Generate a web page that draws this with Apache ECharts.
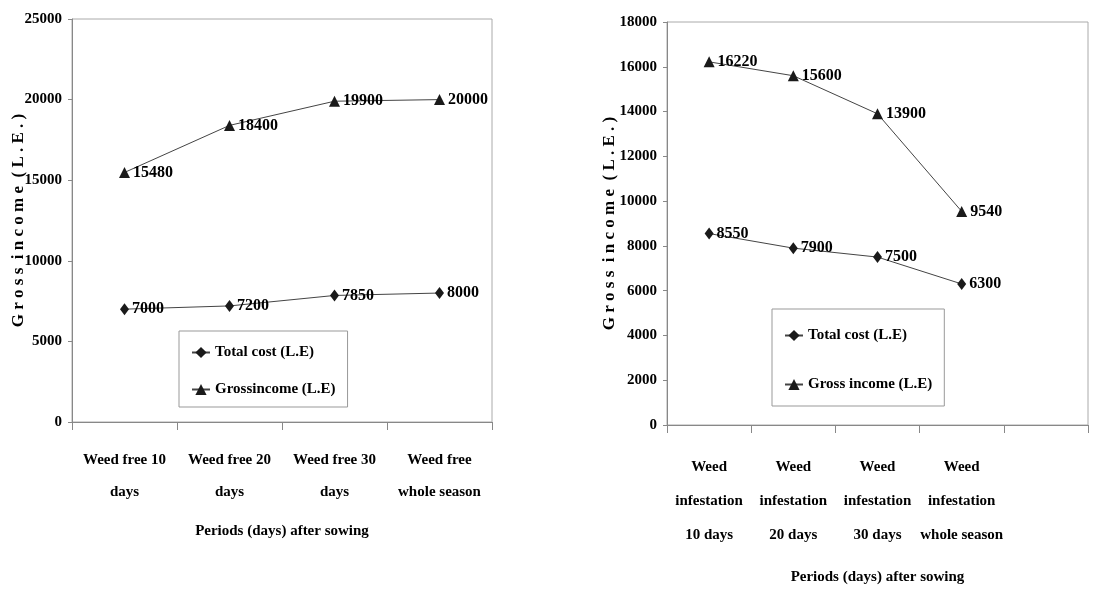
<!DOCTYPE html>
<html><head><meta charset="utf-8">
<script src="https://cdn.jsdelivr.net/npm/echarts@6/dist/echarts.min.js"></script>
<style>html,body{margin:0;padding:0;background:#fff}#c{width:1102px;height:590px}</style>
</head><body><div id="c"></div>
<script>
var leftCategories = ['Weed free 10\ndays', 'Weed free 20\ndays', 'Weed free 30\ndays', 'Weed free\nwhole season'];
var leftCost = [7000, 7200, 7850, 8000];
var leftIncome = [15480, 18400, 19900, 20000];
var leftYMax = 25000, leftYInterval = 5000;

var rightCategories = ['Weed\ninfestation\n10 days', 'Weed\ninfestation\n20 days', 'Weed\ninfestation\n30 days', 'Weed\ninfestation\nwhole season', ''];
var rightCost = [8550, 7900, 7500, 6300];
var rightIncome = [16220, 15600, 13900, 9540];
var rightYMax = 18000, rightYInterval = 2000;

var yName = 'G r o s s  i n c o m e  ( L . E . )';
var xName = 'Periods (days) after sowing';
var leftNames = ['Total cost (L.E)', 'Grossincome (L.E)'];
var rightNames = ['Total cost (L.E)', 'Gross income (L.E)'];

var FONT = '"Liberation Serif", "Times New Roman", serif';
var txt = {fontFamily: FONT, fontWeight: 'bold', fontSize: 15, color: '#000'};

function yAxis(gi, max, interval, gap) {
  return {
    gridIndex: gi, type: 'value', min: 0, max: max, interval: interval,
    name: yName, nameLocation: 'middle', nameRotate: 90, nameGap: gap, nameMoveOverlap: false,
    nameTextStyle: Object.assign({}, txt, {fontSize: 17}),
    axisLine: {show: true, lineStyle: {color: '#888', width: 1}},
    axisTick: {show: true, length: 4, lineStyle: {color: '#888'}},
    axisLabel: Object.assign({}, txt, {fontSize: 15, margin: 10, formatter: function (v) { return String(v); }}),
    splitLine: {show: false}
  };
}
function xAxis(gi, cats, margin, lh, nameGap) {
  return {
    gridIndex: gi, type: 'category', data: cats, boundaryGap: true,
    name: xName, nameLocation: 'middle', nameGap: nameGap, nameMoveOverlap: false,
    nameTextStyle: Object.assign({}, txt),
    axisLine: {show: true, lineStyle: {color: '#888', width: 1}},
    axisTick: {show: true, length: 8, alignWithLabel: false, lineStyle: {color: '#888'}},
    axisLabel: Object.assign({}, txt, {margin: margin, lineHeight: lh, interval: 0})
  };
}
function series(name, data, xi, symbol, size) {
  return {
    name: name, type: 'line', xAxisIndex: xi, yAxisIndex: xi, data: data,
    symbol: symbol, symbolSize: size, showSymbol: true,
    itemStyle: {color: '#1a1a1a'},
    lineStyle: {color: '#444', width: 1},
    label: Object.assign({show: true, position: 'right', distance: 3}, txt, {fontSize: 16}),
    emphasis: {disabled: true}, animation: false
  };
}
function legend(names, left, top, gap, pad) {
  return {
    data: names, orient: 'vertical', left: left, top: top,
    itemWidth: 18, itemHeight: 14, itemGap: gap, padding: pad,
    borderColor: '#999', borderWidth: 1, backgroundColor: '#fff',
    textStyle: Object.assign({}, txt), selectedMode: false
  };
}

var chart = echarts.init(document.getElementById('c'));
chart.setOption({
  backgroundColor: '#fff',
  animation: false,
  grid: [
    {left: 72, top: 19, width: 420, height: 403, show: true, borderColor: '#aaa', borderWidth: 1},
    {left: 667, top: 22, width: 421, height: 403, show: true, borderColor: '#aaa', borderWidth: 1}
  ],
  xAxis: [xAxis(0, leftCategories, 22, 32, 102), xAxis(1, rightCategories, 25, 34, 145)],
  yAxis: [yAxis(0, leftYMax, leftYInterval, 45), yAxis(1, rightYMax, rightYInterval, 49)],
  legend: [
    legend(leftNames, 179, 331, 22, [14, 12, 10, 12]),
    legend(rightNames, 772, 309, 34, [19, 12, 14, 12])
  ],
  series: [
    series(leftNames[0], leftCost, 0, 'diamond', [9, 12]),
    series(leftNames[1], leftIncome, 0, 'triangle', [11, 11]),
    series(rightNames[0], rightCost, 1, 'diamond', [9, 12]),
    series(rightNames[1], rightIncome, 1, 'triangle', [11, 11])
  ]
});
</script></body></html>
